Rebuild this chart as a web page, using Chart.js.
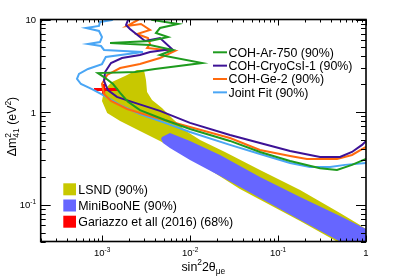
<!DOCTYPE html>
<html>
<head>
<meta charset="utf-8">
<script src="https://cdn.jsdelivr.net/npm/chart.js@4.4.0/dist/chart.umd.min.js"></script>
<style>
  html, body { margin: 0; padding: 0; background: #fff; }
  canvas { display: block; }
</style>
</head>
<body>
<canvas id="chart" width="407" height="278"></canvas>
<script>
// Axis ranges and tick labels
const xRange = [2e-4, 1];
const yRange = [0.04, 10];
const xTickValues = [1e-3, 1e-2, 1e-1, 1];
const xTickLabels = [['10', '-3'], ['10', '-2'], ['10', '-1'], ['1', '']];
const yTickValues = [0.1, 1, 10];
const yTickLabels = [['10', '-1'], ['1', ''], ['10', '']];

// Allowed regions (closed contours)
const lsndX = [2.49e-3, 2.99e-3, 3.15e-3, 3.24e-3, 3.69e-3, 4.79e-3, 6.56e-3, 8.98e-3, 1.30e-2, 2.49e-2, 6.23e-2, 0.178, 0.506, 0.855, 1.11, 1.17, 0.693, 0.178, 0.0810, 0.0369, 0.0168, 7.67e-3, 4.54e-3, 2.69e-3, 1.60e-3, 1.14e-3, 9.95e-4, 1.05e-3, 1.29e-3, 1.82e-3, 2.24e-3];
const lsndY = [2.85, 2.85, 2.22, 1.65, 1.35, 1.11, 0.822, 0.625, 0.500, 0.371, 0.237, 0.144, 0.0813, 0.0604, 0.0507, 0.0324, 0.0324, 0.0667, 0.0993, 0.148, 0.237, 0.371, 0.488, 0.625, 0.802, 0.977, 1.32, 1.73, 2.11, 2.45, 2.71];

const mbX = [4.79e-3, 5.90e-3, 9.97e-3, 0.0219, 0.0623, 0.178, 0.506, 1.0, 1.17, 1.17, 0.658, 0.178, 0.0623, 0.0219, 9.97e-3, 5.90e-3, 4.92e-3, 4.67e-3];
const mbY = [0.538, 0.594, 0.488, 0.344, 0.199, 0.121, 0.0755, 0.0547, 0.0507, 0.0286, 0.0349, 0.0684, 0.118, 0.204, 0.304, 0.409, 0.464, 0.512];

const garX = [8.07e-4, 9.95e-4, 9.95e-4, 1.08e-3, 1.08e-3, 1.51e-3, 1.51e-3, 1.08e-3, 1.08e-3, 9.95e-4, 9.95e-4, 8.07e-4];
const garY = [1.82, 1.82, 2.01, 2.01, 1.82, 1.82, 1.69, 1.69, 1.53, 1.53, 1.69, 1.69];

// Exclusion curves (90% CL)
const arX = [3.50e-3, 3.69e-3, 7.28e-3, 4.54e-3, 4.09e-3, 5.60e-3, 3.50e-3, 1.23e-3, 3.50e-3, 6.38e-3, 4.54e-3, 0.0137, 3.99e-3, 2.36e-3, 8.95e-4, 1.05e-3, 1.33e-3, 1.60e-3, 1.97e-3, 2.69e-3, 5.18e-3, 9.97e-3, 0.0284, 0.0623, 0.137, 0.300, 0.468, 0.693, 1.0];
const arY = [12.0, 9.88, 8.94, 8.09, 7.14, 6.47, 5.86, 5.57, 5.31, 4.69, 4.14, 3.39, 2.92, 2.71, 2.64, 2.39, 2.01, 1.61, 1.29, 1.05, 0.822, 0.656, 0.488, 0.371, 0.296, 0.248, 0.237, 0.269, 0.312];

const csiX = [2.02e-3, 1.97e-3, 1.87e-3, 2.07e-3, 3.07e-3, 4.54e-3, 6.22e-3, 3.50e-3, 2.69e-3, 1.68e-3, 1.26e-3, 1.08e-3, 1.05e-3, 1.16e-3, 1.47e-3, 2.18e-3, 4.54e-3, 9.97e-3, 0.0284, 0.0623, 0.137, 0.300, 0.506, 0.693, 0.901, 1.03];
const csiY = [12.0, 9.88, 8.73, 7.89, 5.86, 6.31, 4.80, 4.46, 4.14, 3.84, 3.39, 2.71, 2.17, 1.73, 1.46, 1.29, 1.03, 0.764, 0.566, 0.464, 0.380, 0.328, 0.328, 0.371, 0.442, 0.500];

const geX = [2.69e-3, 2.55e-3, 1.92e-3, 2.76e-3, 3.50e-3, 2.49e-3, 3.32e-3, 3.50e-3, 3.24e-3, 6.73e-3, 4.54e-3, 2.69e-3, 1.60e-3, 1.14e-3, 9.95e-4, 1.05e-3, 1.26e-3, 1.92e-3, 3.50e-3, 9.97e-3, 0.0284, 0.0623, 0.137, 0.213, 0.468, 0.693, 1.0];
const geY = [12.0, 9.88, 8.51, 8.94, 7.71, 6.97, 6.31, 5.43, 4.92, 4.57, 3.84, 3.30, 2.99, 2.52, 2.01, 1.57, 1.32, 1.08, 0.908, 0.690, 0.525, 0.390, 0.336, 0.312, 0.312, 0.344, 0.420];

const jfX = [1.64e-3, 1.29e-3, 9.44e-4, 9.20e-4, 6.55e-4, 9.20e-4, 9.95e-4, 9.44e-4, 6.90e-4, 9.70e-4, 1.05e-3, 2.91e-3, 1.10e-3, 9.95e-4, 6.90e-4, 5.45e-4, 5.17e-4, 5.74e-4, 7.66e-4, 1.08e-3, 1.60e-3, 2.69e-3, 5.18e-3, 9.97e-3, 0.0284, 0.0623, 0.137, 0.231, 0.390, 0.577, 1.0];
const jfY = [12.0, 9.88, 9.40, 8.51, 8.09, 7.52, 6.47, 5.71, 5.43, 5.17, 4.69, 4.46, 3.94, 3.30, 2.92, 2.58, 2.28, 2.01, 1.77, 1.49, 1.19, 0.954, 0.764, 0.610, 0.442, 0.353, 0.282, 0.255, 0.255, 0.269, 0.282];

const lineLabels = ['COH-Ar-750 (90%)', 'COH-CryoCsI-1 (90%)', 'COH-Ge-2 (90%)', 'Joint Fit (90%)'];
const regionLabels = ['LSND (90%)', 'MiniBooNE (90%)', 'Gariazzo et all (2016) (68%)'];

const FONT = '"Liberation Sans", Arial, sans-serif';
const pts = (xs, ys) => xs.map((x, i) => ({ x, y: ys[i] }));

const region = (label, xs, ys, color, order) => ({
    label, data: pts(xs, ys), showLine: true, fill: 'shape',
    backgroundColor: color, borderColor: 'transparent', borderWidth: 0,
    pointRadius: 0, tension: 0, order, kind: 'region'
});
const curve = (label, xs, ys, color) => ({
    label, data: pts(xs, ys), showLine: true, fill: false,
    borderColor: color, borderWidth: 2, pointRadius: 0, tension: 0, order: 1, kind: 'line'
});

// Draws text with super/subscripts: parts are strings or {sup, sub}
function richText(ctx, parts, x, y, size, align) {
    const small = size * 0.68;
    const widths = parts.map(p => {
        if (typeof p === 'string') { ctx.font = `${size}px ${FONT}`; return ctx.measureText(p).width; }
        ctx.font = `${small}px ${FONT}`;
        return Math.max(ctx.measureText(p.sup || '').width, ctx.measureText(p.sub || '').width);
    });
    const w = widths.reduce((s, v) => s + v, 0);
    let cx = align === 'center' ? x - w / 2 : align === 'right' ? x - w : x;
    ctx.textAlign = 'left';
    ctx.textBaseline = 'alphabetic';
    parts.forEach((p, i) => {
        if (typeof p === 'string') {
            ctx.font = `${size}px ${FONT}`;
            ctx.fillText(p, cx, y);
        } else {
            ctx.font = `${small}px ${FONT}`;
            if (p.sup) ctx.fillText(p.sup, cx, y - size * 0.42);
            if (p.sub) ctx.fillText(p.sub, cx, y + size * 0.28);
        }
        cx += widths[i];
    });
}

// ROOT-like frame, ticks, labels and legends
const rootFrame = {
    id: 'rootFrame',
    afterDatasetsDraw(chart) {
        const { ctx, chartArea: a, scales: { x, y } } = chart;
        ctx.save();
        ctx.strokeStyle = '#000';
        ctx.fillStyle = '#000';

        // minor and major ticks
        ctx.lineWidth = 1;
        ctx.beginPath();
        for (let d = -4; d <= 0; d++) {
            for (let m = 1; m <= 9; m++) {
                const v = m * Math.pow(10, d);
                if (v < xRange[0] || v > xRange[1] * 1.0001) continue;
                const px = Math.round(x.getPixelForValue(v)) + 0.5;
                const len = m === 1 ? 6 : 3;
                ctx.moveTo(px, a.bottom); ctx.lineTo(px, a.bottom - len);
                ctx.moveTo(px, a.top); ctx.lineTo(px, a.top + len);
            }
        }
        for (let d = -2; d <= 1; d++) {
            for (let m = 1; m <= 9; m++) {
                const v = m * Math.pow(10, d);
                if (v < yRange[0] || v > yRange[1] * 1.0001) continue;
                const py = Math.round(y.getPixelForValue(v)) + 0.5;
                const len = m === 1 ? 10 : 5;
                ctx.moveTo(a.left, py); ctx.lineTo(a.left + len, py);
                ctx.moveTo(a.right, py); ctx.lineTo(a.right - len, py);
            }
        }
        ctx.stroke();

        ctx.lineWidth = 1.6;
        ctx.strokeRect(a.left, a.top, a.right - a.left, a.bottom - a.top);

        // tick labels
        xTickValues.forEach((v, i) => {
            const [base, exp] = xTickLabels[i];
            const parts = exp ? [base, { sup: exp }] : [base];
            richText(ctx, parts, x.getPixelForValue(v), 256, 9.5, 'center');
        });
        yTickValues.forEach((v, i) => {
            const [base, exp] = yTickLabels[i];
            const parts = exp ? [base, { sup: exp }] : [base];
            richText(ctx, parts, 36, y.getPixelForValue(v) + 3.5, 9.5, 'right');
        });

        // axis titles
        richText(ctx, ['sin', { sup: '2' }, '2θ', { sub: 'μe' }], (a.left + a.right) / 2, 270.5, 12.4, 'center');
        ctx.save();
        ctx.translate(16, (a.top + a.bottom) / 2 - 4);
        ctx.rotate(-Math.PI / 2);
        richText(ctx, ['Δm', { sup: '2', sub: '41' }, ' (eV', { sup: '2' }, ')'], 0, 0, 12.4, 'center');
        ctx.restore();

        // legend: exclusion curves
        const lines = chart.data.datasets.filter(ds => ds.kind === 'line');
        lines.forEach((ds, i) => {
            const ry = 52.3 + i * 13.35;
            ctx.strokeStyle = ds.borderColor;
            ctx.lineWidth = 2;
            ctx.beginPath();
            ctx.moveTo(213, ry); ctx.lineTo(227, ry);
            ctx.stroke();
            ctx.fillStyle = '#000';
            richText(ctx, [ds.label], 228.5, ry + 4.4, 12.4, 'left');
        });

        // legend: allowed regions
        const regions = chart.data.datasets.filter(ds => ds.kind === 'region');
        regions.forEach((ds, i) => {
            const ry = 189.3 + i * 16.2;
            ctx.fillStyle = ds.backgroundColor;
            ctx.fillRect(63.3, ry - 6, 12.7, 12);
            ctx.fillStyle = '#000';
            richText(ctx, [ds.label], 78.3, ry + 4.4, 12.4, 'left');
        });
        ctx.restore();
    }
};

const fixedWidth = w => scale => { scale.width = w; };
const fixedHeight = h => scale => { scale.height = h; };

new Chart(document.getElementById('chart'), {
    type: 'scatter',
    data: {
        datasets: [
            curve(lineLabels[0], arX, arY, '#1e9b1e'),
            curve(lineLabels[1], csiX, csiY, '#3d1296'),
            curve(lineLabels[2], geX, geY, '#ff6a0d'),
            curve(lineLabels[3], jfX, jfY, '#4aa6f5'),
            region(regionLabels[0], lsndX, lsndY, '#c8c800', 6),
            region(regionLabels[1], mbX, mbY, '#6666ff', 5),
            region(regionLabels[2], garX, garY, '#ff0000', 4)
        ]
    },
    options: {
        responsive: false,
        animation: false,
        layout: { padding: { left: 0, top: 19.5, right: 41, bottom: 0 } },
        plugins: {
            legend: { display: false },
            tooltip: { enabled: false }
        },
        scales: {
            x: {
                type: 'logarithmic', min: xRange[0], max: xRange[1],
                grid: { display: false }, border: { display: false },
                ticks: { display: false },
                afterFit: fixedHeight(36.5)
            },
            y: {
                type: 'logarithmic', min: yRange[0], max: yRange[1],
                grid: { display: false }, border: { display: false },
                ticks: { display: false },
                afterFit: fixedWidth(40.7)
            }
        }
    },
    plugins: [rootFrame]
});
</script>
</body>
</html>
